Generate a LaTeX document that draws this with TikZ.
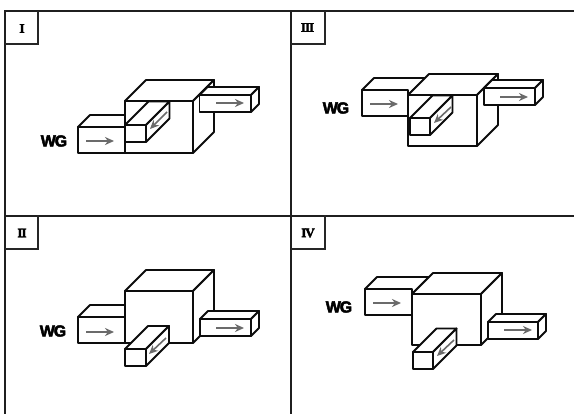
\documentclass[tikz,border=0pt]{standalone}
\usepackage{fontspec}
\setmainfont{Liberation Serif}
\newfontfamily\wgfont[FakeBold=3,LetterSpace=-7]{Liberation Sans}
\newfontfamily\numfont[FakeBold=3,LetterSpace=-8]{Liberation Serif}
\usetikzlibrary{arrows.meta}
\tikzset{
  frameline/.style={draw=black!88,line width=2.1pt},
  tabline/.style={draw=black!85,line width=1.2pt},
  edge/.style={draw=black!95,fill=white,line width=1.9pt,line join=round},
  flow/.style={draw=black!58,line width=1.6pt,-{Stealth[length=9pt,width=8pt]}},
  wglabel/.style={font=\wgfont\bfseries\fontsize{16}{16}\selectfont,inner sep=0pt,text=black},
  numlabel/.style={font=\numfont\bfseries\fontsize{13}{13}\selectfont,inner sep=0pt,text=black}
}
% #1 x left, #2 x right, #3 y top, #4 y bottom, #5 depth
\newcommand{\solidbox}[5]{
  \path[edge] (#1,#3) rectangle (#2,#4);
  \path[edge] (#1,#3) -- ({#1+#5},{#3-#5}) -- ({#2+#5},{#3-#5}) -- (#2,#3) -- cycle;
  \path[edge] (#2,#3) -- ({#2+#5},{#3-#5}) -- ({#2+#5},{#4-#5}) -- (#2,#4) -- cycle;
}
\begin{document}
\begin{tikzpicture}[x=1pt,y=-1pt]
\useasboundingbox (0,0) rectangle (574,414);
% frame
\draw[frameline] (574,11) -- (5,11) -- (5,414);
\draw[frameline] (5,216) -- (574,216);
\draw[frameline] (291,11) -- (291,414);
\draw[tabline] (5,44) -- (38,44) -- (38,11);
\draw[tabline] (291,44) -- (325,44) -- (325,11);
\draw[tabline] (5,249) -- (38,249) -- (38,215);
\draw[tabline] (291,249) -- (325,249) -- (325,215);
\node[numlabel] (n1) at (22,28.5) {I};
\node[numlabel] (n3) at (307.5,27.5) {III};
\node[numlabel] (n2) at (22,233) {II};
\node[numlabel] (n4) at (308,233) {IV};
\node[wglabel] (w1) at (54,141) {WG};
\node[wglabel] (w3) at (336,108) {WG};
\node[wglabel] (w2) at (53,331) {WG};
\node[wglabel] (w4) at (339,307) {WG};
% panel I
\solidbox{78}{125}{127}{153}{12}
\solidbox{125}{193}{101}{153}{21}
\solidbox{125}{146}{125}{142}{23.5}
\solidbox{199.5}{251}{95}{112}{8}
\draw[flow] (86,141) -- (114,141);
\draw[flow] (216,103) -- (244,103);
\draw[flow] (167,112) -- (150,129);
% panel III
\path[edge] (362,90) rectangle (408,116);
\path[edge] (362,90) -- (374,78) -- (426,78) -- (408,95) -- (408,90) -- cycle;
\solidbox{408}{477}{95}{146}{21}
\solidbox{410}{430}{118}{135}{22.5}
\solidbox{484}{535}{88}{105}{8}
\draw[flow] (370,104) -- (398,104);
\draw[flow] (500,97) -- (528,97);
\draw[flow] (451,107) -- (434,123);
% panel II
\solidbox{78}{125}{317}{343}{12}
\solidbox{125}{193}{291}{343}{21}
\solidbox{125}{146}{349}{366}{23}
\solidbox{200}{251}{319}{336}{8}
\draw[flow] (86,332) -- (114,332);
\draw[flow] (216,328) -- (244,328);
\draw[flow] (166,338) -- (149,354);
% panel IV
\path[edge] (365,289) rectangle (412,315);
\path[edge] (365,289) -- (377,277) -- (429,277) -- (412,294) -- (412,289) -- cycle;
\solidbox{412}{481}{294}{345}{21}
\solidbox{413}{433}{352}{369}{23.5}
\solidbox{488}{538}{322}{339}{8}
\draw[flow] (373,303) -- (401,303);
\draw[flow] (504,330) -- (532,330);
\draw[flow] (454,340) -- (437,356);
\end{tikzpicture}
\end{document}
